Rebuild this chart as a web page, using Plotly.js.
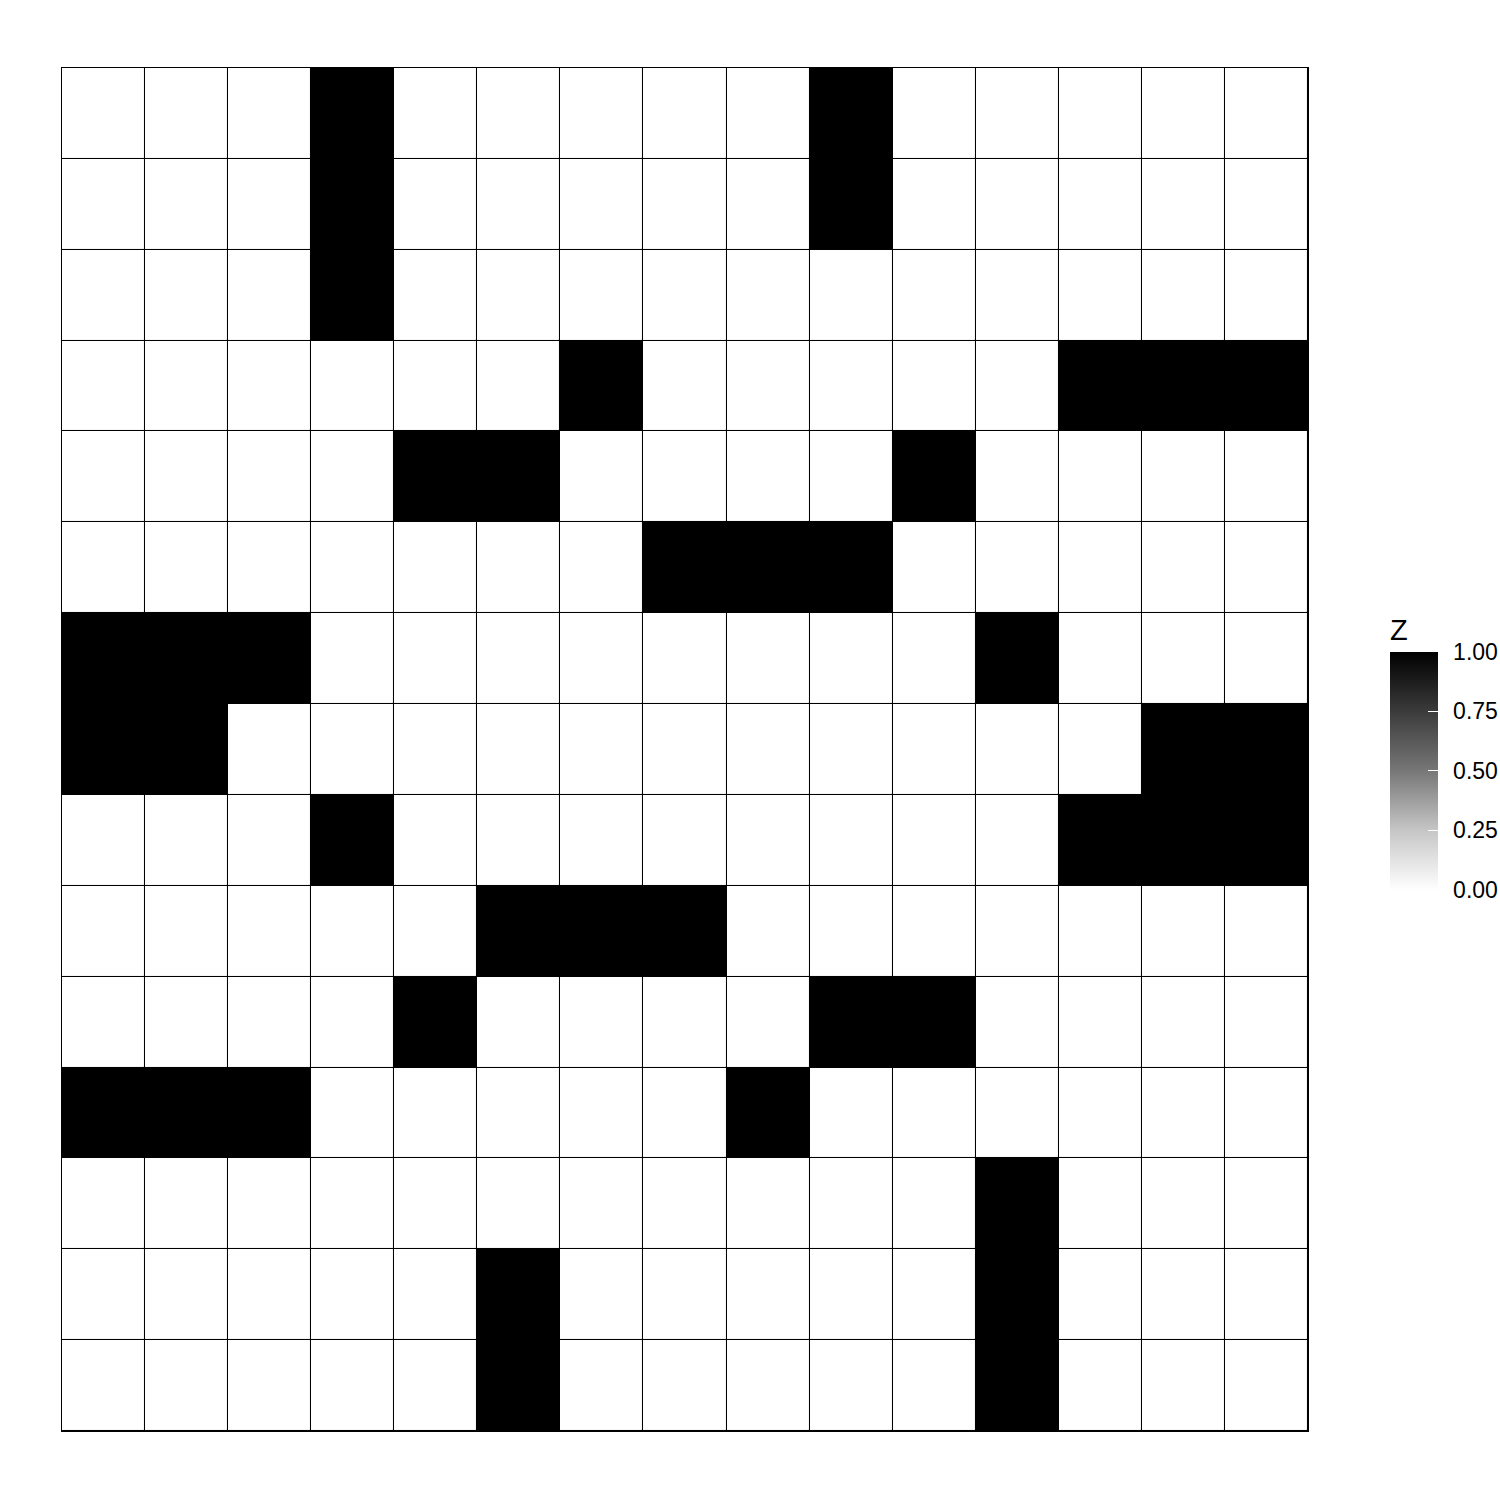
<!DOCTYPE html>
<html>
<head>
<meta charset="utf-8">
<script src="https://cdn.plot.ly/plotly-3.0.1.min.js"></script>
<style>html,body{margin:0;padding:0;background:#fff;}</style>
</head>
<body>
<div id="chart" style="width:1500px;height:1500px;"></div>
<script>
// Column and row indices
const xVals = [1,2,3,4,5,6,7,8,9,10,11,12,13,14,15];
const yVals = [1,2,3,4,5,6,7,8,9,10,11,12,13,14,15]; // top to bottom
// Z values, rows listed top to bottom
const z01 = [0,0,0,1,0,0,0,0,0,1,0,0,0,0,0];
const z02 = [0,0,0,1,0,0,0,0,0,1,0,0,0,0,0];
const z03 = [0,0,0,1,0,0,0,0,0,0,0,0,0,0,0];
const z04 = [0,0,0,0,0,0,1,0,0,0,0,0,1,1,1];
const z05 = [0,0,0,0,1,1,0,0,0,0,1,0,0,0,0];
const z06 = [0,0,0,0,0,0,0,1,1,1,0,0,0,0,0];
const z07 = [1,1,1,0,0,0,0,0,0,0,0,1,0,0,0];
const z08 = [1,1,0,0,0,0,0,0,0,0,0,0,0,1,1];
const z09 = [0,0,0,1,0,0,0,0,0,0,0,0,1,1,1];
const z10 = [0,0,0,0,0,1,1,1,0,0,0,0,0,0,0];
const z11 = [0,0,0,0,1,0,0,0,0,1,1,0,0,0,0];
const z12 = [1,1,1,0,0,0,0,0,1,0,0,0,0,0,0];
const z13 = [0,0,0,0,0,0,0,0,0,0,0,1,0,0,0];
const z14 = [0,0,0,0,0,1,0,0,0,0,0,1,0,0,0];
const z15 = [0,0,0,0,0,1,0,0,0,0,0,1,0,0,0];
const zRows = [z01,z02,z03,z04,z05,z06,z07,z08,z09,z10,z11,z12,z13,z14,z15];
const cbTicks = [0, 0.25, 0.5, 0.75, 1];

const greyScale = [[0,'#ffffff'],[0.25,'#c6c6c6'],[0.5,'#777777'],[0.75,'#3b3b3b'],[1,'#000000']];
const cbFont = 'Liberation Sans, Arial, sans-serif';
const cbBase = {
  tickvals: cbTicks,
  tickformat: '.2f',
  outlinewidth: 0,
  thickness: 48,
  thicknessmode: 'pixels',
  len: 275,
  lenmode: 'pixels',
  x: 1.0658,
  xanchor: 'left',
  xpad: 0,
  y: 0.397,
  yanchor: 'bottom',
  ypad: 0
};

const trace = {
  type: 'heatmap',
  x: xVals,
  y: yVals,
  z: zRows,
  zmin: 0,
  zmax: 1,
  xgap: 1.2,
  ygap: 1.2,
  colorscale: greyScale,
  hoverinfo: 'skip',
  colorbar: Object.assign({}, cbBase, {
    title: {text: 'Z', side: 'top', font: {family: cbFont, size: 29, color: '#000'}},
    ticks: 'outside',
    ticklen: 11,
    tickcolor: 'rgba(255,255,255,0)',
    tickwidth: 1,
    tickfont: {family: cbFont, size: 23, color: '#000'}
  })
};

// Same data again, only to draw the white tick marks on the colour bar
const tickTrace = {
  type: 'heatmap',
  x: xVals,
  y: yVals,
  z: zRows,
  zmin: 0,
  zmax: 1,
  xgap: 1.2,
  ygap: 1.2,
  colorscale: greyScale,
  hoverinfo: 'skip',
  colorbar: Object.assign({}, cbBase, {
    title: {text: 'Z', side: 'top', font: {family: cbFont, size: 29, color: 'rgba(0,0,0,0)'}},
    ticks: 'inside',
    ticklen: 10,
    tickcolor: '#ffffff',
    tickwidth: 1.2,
    showticklabels: false
  })
};

const layout = {
  width: 1500,
  height: 1500,
  margin: {l: 62, r: 192, t: 68, b: 69, autoexpand: false},
  paper_bgcolor: '#ffffff',
  plot_bgcolor: '#000000',
  showlegend: false,
  xaxis: {
    range: [0.5, 15.5],
    showgrid: false, zeroline: false, showticklabels: false, ticks: '',
    showline: true, mirror: true, linecolor: '#000', linewidth: 1
  },
  yaxis: {
    range: [15.5, 0.5],
    showgrid: false, zeroline: false, showticklabels: false, ticks: '',
    showline: true, mirror: true, linecolor: '#000', linewidth: 1
  }
};

Plotly.newPlot('chart', [trace, tickTrace], layout, {displayModeBar: false, staticPlot: true});
</script>
</body>
</html>
